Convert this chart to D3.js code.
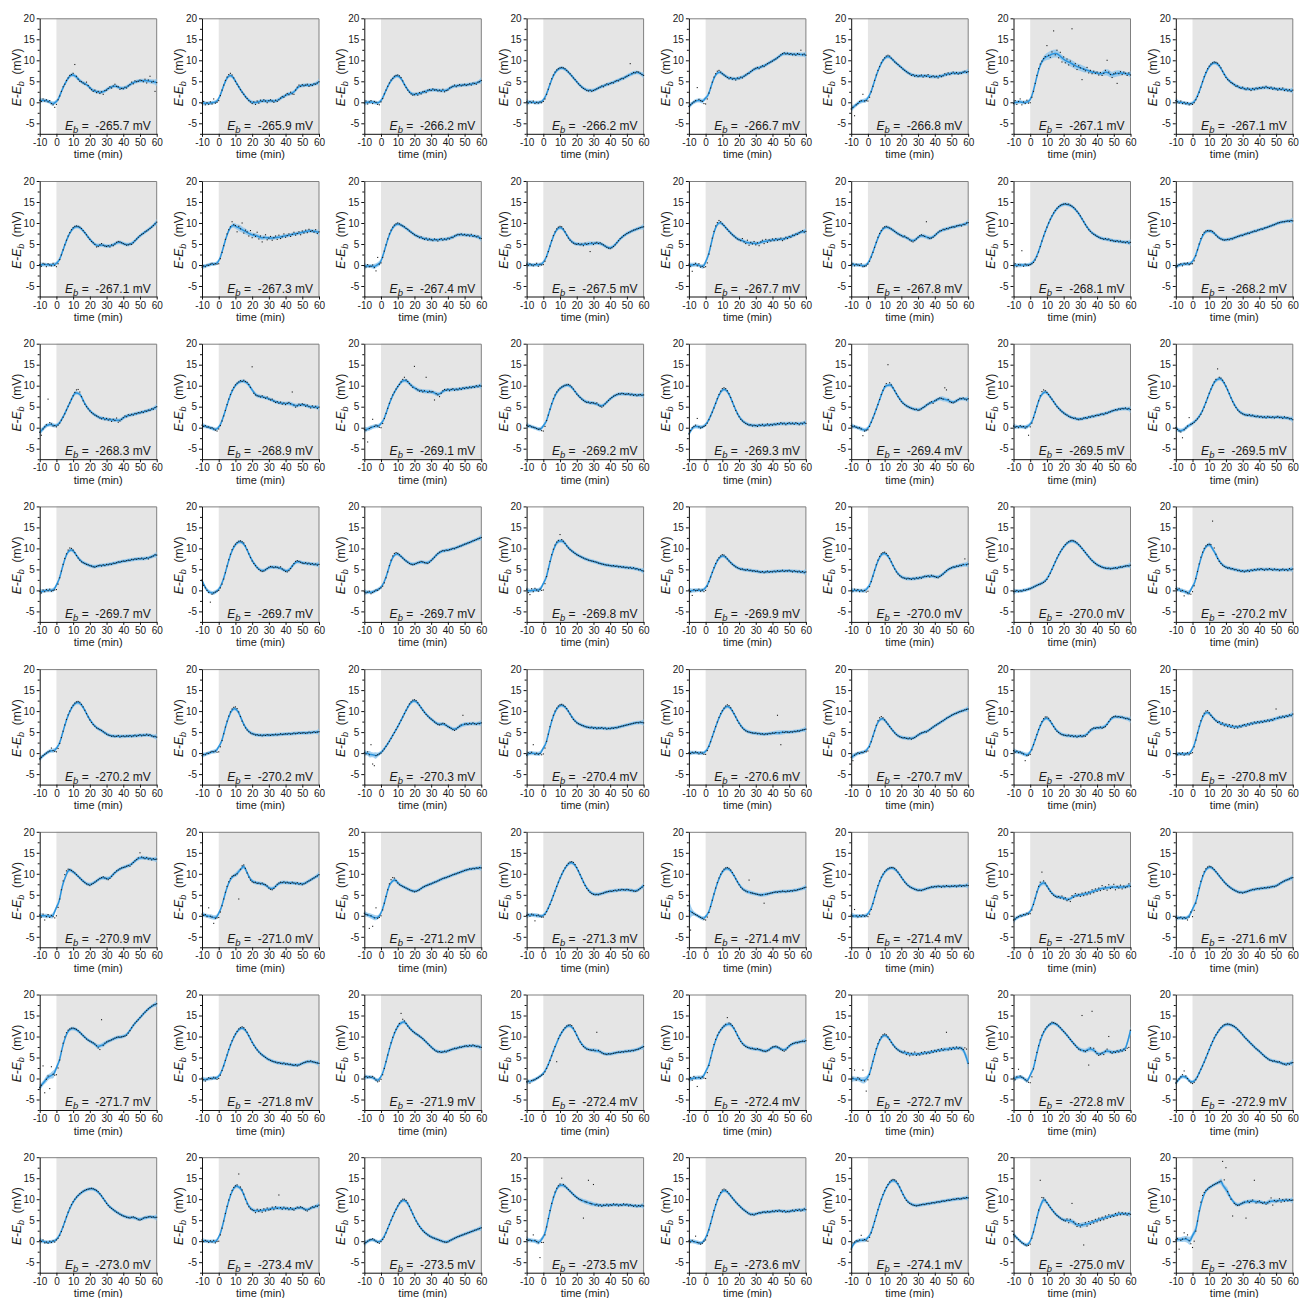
<!DOCTYPE html>
<html><head><meta charset="utf-8">
<script src="https://cdn.jsdelivr.net/npm/d3@7"></script>
<style>
body{margin:0;background:#fff}
svg text{font-family:"Liberation Sans",Arial,Helvetica,sans-serif;fill:#1a1a1a}
</style>
</head><body>
<svg id="chart" width="1299" height="1298"></svg>
<script>
// sampling times (min), one observation per minute
const times = d3.range(-10, 61);
const xTicks = [-10, 0, 10, 20, 30, 40, 50, 60];
const yTicks = [-5, 0, 5, 10, 15, 20];
const yMinor = [-7.5, -2.5, 2.5, 7.5, 12.5, 17.5];
const ebValues = [
 -265.7,-265.9,-266.2,-266.2,-266.7,-266.8,-267.1,-267.1,
 -267.1,-267.3,-267.4,-267.5,-267.7,-267.8,-268.1,-268.2,
 -268.3,-268.9,-269.1,-269.2,-269.3,-269.4,-269.5,-269.5,
 -269.7,-269.7,-269.7,-269.8,-269.9,-270.0,-270.0,-270.2,
 -270.2,-270.2,-270.3,-270.4,-270.6,-270.7,-270.8,-270.8,
 -270.9,-271.0,-271.2,-271.3,-271.4,-271.4,-271.5,-271.6,
 -271.7,-271.8,-271.9,-272.4,-272.4,-272.7,-272.8,-272.9,
 -273.0,-273.4,-273.5,-273.5,-273.6,-274.1,-275.0,-276.3];

// observed E - Eb (mV) at t = -10..60 min, one array per cell
const p01=[0.5,0.2,0.8,0.3,0.6,0.1,0.4,-0.3,-0.6,-1.2,-0.5,0.6,1.5,2.6,3.7,4.3,5.2,5.8,6.4,6.6,6.9,9.0,6.2,5.5,5.0,4.9,4.6,4.3,4.8,4.0,3.4,3.0,2.6,2.9,2.3,2.6,2.1,2.5,1.9,2.8,2.9,3.3,3.7,3.4,3.9,4.3,3.8,3.7,3.1,3.3,3.2,3.6,3.4,3.9,4.2,4.8,4.4,5.1,4.9,5.0,5.3,5.2,4.9,5.5,4.6,5.3,6.2,4.8,5.0,2.6,4.7];
const p02=[-0.3,0.2,-0.6,-0.1,-0.5,0.1,-0.4,0.8,-0.2,0.0,0.4,1.6,2.9,4.1,5.2,6.0,6.6,6.9,6.5,5.8,5.0,4.3,3.7,3.0,2.4,1.9,1.3,0.9,0.4,0.1,-0.3,0.1,-0.5,0.3,-0.2,0.5,0.2,0.6,0.3,-0.1,0.4,0.6,0.3,0.0,0.5,0.2,0.6,1.0,1.4,1.2,1.7,2.1,1.8,2.4,2.0,1.9,2.9,3.6,4.1,3.8,4.2,3.9,4.1,4.3,3.8,4.2,4.0,4.4,4.3,4.6,4.9];
const p03=[-0.2,0.3,-0.4,0.1,0.4,-0.3,0.2,0.0,-0.5,-0.6,0.1,0.9,2.0,2.9,3.8,4.6,5.3,5.7,6.2,6.4,6.5,6.3,5.9,5.1,4.2,3.5,2.9,2.4,2.0,1.7,1.8,2.1,1.7,2.3,2.0,2.5,2.6,2.3,2.9,3.0,2.8,3.2,2.9,3.0,2.7,2.9,2.6,3.1,2.5,2.8,2.9,3.4,3.6,3.8,4.1,3.7,4.0,4.2,3.9,4.1,4.3,4.0,4.2,4.4,4.1,4.6,4.5,4.3,4.8,4.9,5.2];
const p04=[0.1,-0.2,0.2,-0.1,0.3,-0.3,0.0,-0.2,0.1,-0.1,0.2,0.8,1.9,3.1,4.4,5.6,6.5,7.2,7.7,8.0,8.2,8.3,8.2,8.0,7.6,7.2,6.8,6.3,5.8,5.4,4.9,4.4,4.0,3.6,3.3,3.1,2.8,2.7,2.9,2.6,2.8,3.0,3.2,3.4,3.6,3.9,3.7,4.1,4.4,4.2,4.5,4.7,4.6,5.0,5.2,5.1,5.5,5.7,5.6,6.0,6.2,6.4,9.2,6.8,7.1,7.0,7.3,7.2,6.9,6.6,6.4];
const p05=[-1.0,-0.6,-0.2,0.1,0.4,3.5,0.7,0.4,0.2,-0.3,-0.4,0.8,2.2,3.4,4.8,6.0,6.8,7.4,7.6,7.2,6.8,6.5,6.2,5.9,5.6,5.9,5.5,5.7,5.3,5.8,5.6,6.0,5.8,6.2,6.5,6.8,6.9,7.3,7.6,7.9,8.1,8.3,8.0,8.4,8.7,8.5,8.9,9.2,9.4,9.6,9.8,10.1,10.3,10.6,10.9,11.3,11.6,11.8,11.5,11.7,11.4,11.6,11.3,11.5,11.2,11.6,11.4,12.4,11.3,11.5,11.2];
const p06=[-1.6,-1.2,-3.2,-0.6,-0.3,0.2,0.4,1.9,0.3,0.4,0.3,1.2,2.5,3.8,5.2,6.5,7.6,8.5,9.4,10.1,10.6,11.0,11.2,11.0,10.5,10.1,9.6,9.3,9.0,8.6,8.3,7.9,7.6,7.3,7.0,6.8,6.4,6.6,6.2,6.4,6.1,6.3,6.5,6.0,6.4,6.2,6.6,5.9,6.1,6.3,6.0,6.2,5.8,6.4,6.1,6.3,6.8,6.5,7.0,6.6,6.9,7.2,6.8,7.1,6.7,7.0,6.9,7.2,7.4,7.1,7.3];
const p07=[-0.3,0.4,-0.5,0.2,0.8,-0.6,0.1,-0.3,0.5,-0.2,-0.1,1.2,2.6,4.5,6.4,8.0,9.1,9.8,10.4,10.9,13.5,11.2,10.7,12.0,17.0,11.3,12.4,10.6,11.9,9.6,10.8,9.4,10.3,8.9,9.8,17.5,8.6,9.2,7.8,8.7,8.2,5.4,7.9,7.5,8.3,7.0,7.6,6.8,7.4,6.9,7.2,6.5,7.1,6.4,6.9,7.6,10.0,7.2,6.6,5.9,6.8,7.0,4.5,6.8,7.3,6.6,7.2,6.9,6.4,7.0,6.5];
const p08=[0.4,0.1,-0.2,0.3,-0.3,0.0,-0.4,-0.1,-0.6,-0.3,-0.5,-0.1,0.6,1.4,2.4,3.6,4.9,6.1,7.1,8.0,8.6,9.1,9.4,9.6,9.5,9.3,8.8,8.2,7.4,6.6,5.9,5.4,5.1,4.7,4.5,4.2,3.8,3.9,3.5,3.3,3.6,3.2,3.0,3.4,3.1,2.8,3.3,3.0,3.4,3.2,3.5,3.3,3.6,3.4,3.8,3.5,3.3,3.6,3.1,3.4,3.2,2.9,3.3,3.0,3.4,2.8,3.1,2.7,3.0,2.6,2.9];
const p09=[0.1,-0.3,0.4,0.2,-0.4,0.3,0.0,-0.2,0.4,-0.1,-0.4,0.3,1.3,2.4,3.6,4.8,5.9,6.9,7.7,8.4,8.9,9.2,9.3,9.2,9.0,8.7,8.2,7.7,7.2,6.6,6.1,5.6,5.3,4.9,4.3,4.4,4.8,5.1,4.7,4.5,4.4,4.6,4.3,4.8,4.6,5.0,5.4,5.6,5.5,5.3,5.1,4.9,4.7,4.8,5.0,4.9,5.3,5.8,6.2,6.6,7.0,7.3,7.5,7.9,8.1,8.4,8.7,9.0,9.4,9.8,10.2];
const p10=[-0.5,-0.2,-0.4,0.0,-0.1,0.2,0.4,0.1,0.3,0.2,0.3,1.5,3.0,4.6,6.1,7.4,8.4,9.1,10.3,9.6,9.4,7.9,9.2,8.6,10.0,7.6,8.3,7.9,6.9,8.2,6.5,7.3,6.8,7.8,6.2,6.9,5.5,6.6,7.2,6.0,6.4,6.8,5.9,6.5,6.9,6.1,7.1,6.3,6.7,7.4,6.6,7.0,7.4,6.8,7.3,7.8,7.1,7.5,7.9,7.2,8.1,7.6,8.3,7.7,8.5,8.0,8.2,7.8,8.4,7.5,7.9];
const p11=[-0.2,-0.5,0.1,-0.4,-0.3,0.0,-0.6,-1.4,1.8,0.2,0.5,1.8,3.3,4.8,6.2,7.4,8.3,9.0,9.5,9.8,10.0,9.8,9.5,9.3,9.1,8.7,8.5,8.1,7.8,7.5,7.2,7.0,6.8,6.5,6.7,6.3,6.1,6.4,5.9,6.2,6.0,5.8,6.2,6.0,5.7,6.1,6.3,5.9,6.2,6.0,6.4,6.2,6.6,6.5,6.9,7.1,7.3,7.2,7.4,7.1,7.3,7.0,7.2,6.9,7.3,6.8,7.0,6.7,6.9,6.4,6.3];
const p12=[0.2,-0.1,0.3,0.0,-0.2,0.1,0.4,-0.3,0.2,0.0,0.1,0.9,2.0,3.2,4.5,5.8,7.0,7.9,8.6,9.0,9.2,9.1,8.6,7.9,7.1,6.4,5.9,5.5,5.2,5.0,4.9,5.1,4.8,5.0,4.6,5.2,4.9,5.1,3.2,5.3,4.9,5.2,5.4,5.1,5.3,5.0,4.8,4.5,4.2,4.0,3.9,4.1,4.4,4.8,5.3,5.8,6.3,6.6,7.0,7.2,7.5,7.7,7.9,8.1,8.3,8.4,8.6,8.7,8.9,9.0,9.1];
const p13=[0.2,-0.3,-1.5,0.1,0.4,-0.2,0.3,-0.5,-0.3,-0.6,-0.4,0.5,2.6,4.5,6.4,8.0,9.3,10.1,10.6,10.3,9.8,9.4,8.9,8.5,8.0,7.6,7.2,6.9,6.5,6.2,6.0,5.8,6.3,5.5,5.1,5.9,4.7,5.4,5.0,5.6,4.8,5.3,4.6,5.5,5.9,5.1,6.1,5.4,6.0,5.7,6.2,5.8,6.3,5.9,6.1,6.4,5.8,6.2,6.6,6.3,6.8,6.6,7.1,7.0,7.4,7.3,7.7,7.9,8.2,7.8,8.0];
const p14=[0.1,0.3,-0.2,0.2,0.0,-0.1,0.3,-0.4,-0.3,-0.2,0.2,0.9,1.9,3.0,4.2,5.4,6.6,7.5,8.2,8.8,9.1,9.2,9.0,8.8,8.6,8.3,8.0,7.7,7.4,7.2,7.0,6.7,6.9,6.5,6.4,6.0,5.7,5.5,5.8,6.2,6.6,7.0,7.2,7.0,6.8,10.3,6.5,6.3,6.4,6.6,7.0,7.4,7.8,8.1,8.2,8.5,8.4,8.7,8.6,8.9,9.0,9.1,9.0,9.3,9.4,9.5,9.3,9.7,9.6,10.0,10.1];
const p15=[-0.2,0.3,-0.4,0.1,0.0,3.4,-0.3,0.2,0.0,-0.1,0.1,0.3,0.6,1.2,2.0,3.1,4.4,5.7,6.9,8.0,9.0,10.0,10.9,11.7,12.4,13.0,13.5,13.9,14.2,14.4,14.5,14.6,14.4,14.5,14.2,14.0,13.7,13.3,12.8,12.3,11.7,11.0,10.3,9.6,9.0,8.4,8.0,7.6,7.3,7.1,6.8,6.6,6.4,6.3,6.1,6.3,6.0,6.2,5.8,5.9,5.7,5.6,5.8,5.5,5.7,5.4,5.5,5.3,5.6,5.2,5.4];
const p16=[-0.5,-0.2,0.1,0.3,-0.2,0.4,0.2,0.5,0.1,0.3,0.3,1.0,2.2,3.6,5.0,6.3,7.2,7.8,8.1,8.2,8.1,8.2,8.0,7.6,7.1,6.7,6.4,6.2,6.0,5.9,6.0,6.1,6.0,6.3,6.2,6.5,6.6,6.8,6.9,7.1,7.0,7.3,7.4,7.6,7.5,7.8,7.9,8.1,8.0,8.3,8.4,8.6,8.5,8.8,8.9,9.0,9.2,9.3,9.5,9.6,9.8,10.0,10.1,10.2,10.3,10.3,10.4,10.5,10.4,10.6,10.5];
const p17=[-1.1,-1.8,-0.3,0.2,0.7,6.8,1.2,0.9,0.4,0.5,0.2,0.6,1.1,1.8,2.5,3.3,4.2,5.1,5.9,6.8,7.6,8.4,9.0,9.1,8.5,7.4,6.4,5.6,5.0,4.5,4.0,3.6,3.3,3.0,2.8,2.6,2.3,2.1,2.4,1.9,2.2,1.8,2.1,1.5,2.0,1.7,2.3,1.3,1.6,2.0,2.4,2.8,2.6,3.1,2.9,3.2,3.0,3.4,3.3,3.6,3.5,3.8,3.6,4.0,3.9,4.2,4.1,4.5,4.4,4.8,5.0];
const p18=[0.6,0.3,0.5,0.1,0.2,-0.1,0.0,-0.3,-0.6,-0.8,-0.3,0.5,1.6,2.8,4.1,5.5,6.8,7.9,8.9,9.6,10.2,10.6,10.9,11.2,11.0,11.3,11.0,10.8,10.3,9.6,14.5,8.2,7.8,7.6,7.5,7.3,7.6,7.2,7.0,7.3,6.8,6.6,6.8,6.3,6.0,6.2,5.8,6.1,5.6,5.9,5.5,5.8,6.0,5.7,8.5,5.4,4.9,5.2,5.6,5.3,5.7,5.5,5.1,5.4,5.0,4.7,5.2,4.8,5.1,4.6,4.9];
const p19=[-0.4,-0.6,-3.4,-0.2,0.1,2.0,0.3,0.6,0.4,0.1,0.0,1.0,2.2,3.4,4.6,5.8,6.9,7.8,8.5,9.2,9.8,10.3,10.9,11.5,12.0,11.4,11.0,10.5,10.1,9.6,14.6,9.3,9.0,8.7,8.9,8.5,8.8,12.0,8.4,8.7,8.5,8.6,6.6,8.1,7.8,7.4,8.2,8.8,9.1,8.9,9.2,8.8,9.1,9.3,8.9,9.2,9.0,9.4,9.1,9.5,9.3,9.6,9.4,9.7,9.5,9.8,9.6,10.0,9.7,10.1,9.9];
const p20=[0.6,0.3,0.5,0.2,0.1,0.0,-0.2,-0.4,-0.3,-0.7,-0.8,0.3,1.7,3.0,4.4,5.7,6.9,7.8,8.5,9.0,9.4,9.7,9.9,10.1,10.2,10.3,10.1,9.7,9.2,8.6,8.0,7.6,7.2,6.8,6.5,6.2,6.0,6.1,5.8,6.0,5.9,5.7,5.9,5.4,5.1,4.9,5.2,5.7,6.1,6.5,6.9,7.2,7.5,7.7,7.9,8.1,8.0,8.2,8.1,7.9,8.0,8.1,7.8,8.0,7.7,7.9,7.6,7.8,7.9,7.7,7.8];
const p21=[-1.5,-0.7,0.0,0.3,0.6,2.2,0.2,-0.1,0.1,0.3,0.5,1.1,1.9,2.8,3.7,4.7,5.8,6.9,7.9,8.7,9.3,9.5,9.3,8.8,8.1,7.2,6.2,5.1,4.1,3.3,2.6,2.0,1.6,1.3,1.0,0.8,0.6,0.7,0.4,0.6,0.5,0.3,0.7,0.5,0.8,0.4,0.6,0.9,0.5,0.8,0.6,0.9,0.7,1.0,0.8,1.2,0.9,1.1,0.7,1.0,1.2,0.9,1.1,0.8,1.2,1.0,0.7,1.1,0.9,1.3,1.0];
const p22=[0.5,0.2,0.4,0.1,-0.1,0.0,-0.3,-1.9,-0.8,-0.6,-0.5,0.3,1.3,2.3,3.3,4.4,5.5,6.7,7.9,8.9,9.8,10.5,15.0,10.7,10.2,9.5,8.8,8.1,7.4,6.8,6.2,5.8,5.5,5.2,5.0,4.8,4.6,4.5,4.3,4.4,4.1,4.2,4.5,4.8,5.0,5.4,5.6,5.9,6.2,5.8,6.4,6.6,6.9,7.1,7.0,6.8,9.5,9.0,6.7,6.2,6.0,5.9,6.1,6.4,6.7,7.0,6.9,7.1,6.8,6.6,6.9];
const p23=[0.4,0.1,0.3,0.0,0.5,0.2,0.3,-0.1,0.2,-1.8,0.2,1.1,2.4,3.7,5.1,6.4,7.6,8.6,9.0,8.8,8.4,7.9,7.3,6.8,6.2,5.6,5.0,4.6,4.2,3.8,3.5,3.2,3.0,2.7,2.5,2.4,2.2,2.3,2.0,1.9,2.1,2.0,2.3,2.4,2.2,2.6,2.5,2.8,2.6,2.9,3.0,2.9,3.2,3.3,3.1,3.5,3.4,3.7,3.8,4.0,4.1,4.3,4.2,4.5,4.4,4.6,4.5,4.7,4.4,4.6,4.3];
const p24=[0.0,-0.4,-0.8,-1.0,-2.4,-0.5,-0.1,0.4,2.4,0.8,1.0,1.3,1.7,2.1,2.6,3.2,4.0,4.9,6.0,7.1,8.2,9.2,10.1,10.9,11.5,14.0,12.0,11.8,11.3,10.7,9.9,9.0,8.1,7.1,6.2,5.4,4.8,4.2,3.8,3.5,3.3,3.1,3.0,2.9,3.1,2.8,3.0,2.7,2.6,2.8,2.5,2.7,2.4,2.6,2.3,2.7,2.5,2.4,2.6,2.3,2.5,2.7,2.4,2.5,2.2,2.6,2.3,2.4,2.1,2.2,1.9];
const p25=[-0.2,-0.6,0.1,-0.3,0.2,-0.1,0.3,-0.2,0.0,0.1,0.2,1.5,3.0,4.6,6.2,7.6,8.7,9.6,10.1,10.0,9.6,9.0,8.3,7.7,7.2,6.8,6.6,6.4,6.2,6.1,5.9,5.8,5.6,5.5,5.7,5.9,6.0,5.8,6.1,5.9,6.2,6.1,6.3,6.2,6.5,6.4,6.6,6.8,6.7,6.9,7.0,6.9,7.1,7.2,7.1,7.4,7.3,7.5,7.4,7.6,7.5,7.7,7.4,7.6,7.8,7.5,7.9,8.0,8.2,8.5,8.4];
const p26=[2.5,1.2,0.6,0.0,-0.5,-2.8,-0.9,-0.6,-0.4,-0.2,0.0,0.6,1.5,2.7,4.2,5.8,7.3,8.6,9.7,10.5,11.0,11.4,11.7,11.8,11.6,11.3,10.6,9.7,8.7,7.8,7.0,6.4,5.9,5.4,5.0,4.7,4.5,4.6,4.9,5.2,5.5,5.7,5.6,5.4,5.6,5.5,5.3,5.6,5.1,4.8,4.5,4.4,4.7,5.2,5.8,6.4,6.9,7.1,6.9,6.7,6.5,6.4,6.6,6.3,6.5,6.2,6.4,6.1,6.3,6.0,6.2];
const p27=[-0.3,-0.6,-0.4,-0.2,-0.8,-0.5,-0.2,0.1,0.0,0.4,0.6,1.0,1.8,3.0,4.4,5.9,7.2,8.2,8.8,9.0,8.8,8.5,8.1,7.7,7.3,7.0,6.7,6.4,6.2,6.1,6.2,6.4,6.6,6.7,6.9,6.8,6.6,6.5,6.4,6.7,7.1,7.5,7.9,8.4,8.8,9.1,9.3,9.5,9.4,9.6,9.5,9.7,9.8,10.0,9.9,10.2,10.3,10.5,10.6,10.8,11.0,11.1,11.3,11.4,11.6,11.8,11.9,12.1,12.3,12.4,12.6];
const p28=[0.3,-0.5,-1.0,0.4,-0.3,0.5,0.1,-0.2,0.3,0.0,0.1,1.6,3.3,5.1,6.9,8.5,9.8,10.8,11.5,11.9,13.3,12.1,11.7,11.2,10.6,10.1,9.7,9.4,9.1,8.8,8.5,8.3,8.1,7.9,7.7,7.5,7.4,7.2,7.1,7.0,6.9,6.8,6.7,6.5,6.4,6.3,6.2,6.1,6.0,6.0,5.9,5.8,5.9,5.7,5.8,5.6,5.7,5.5,5.6,5.4,5.5,5.3,5.5,5.2,5.4,5.1,5.2,4.9,5.0,4.7,4.6];
const p29=[0.1,-0.3,-1.2,0.2,-0.1,0.0,0.3,-0.2,0.1,-0.3,0.0,1.0,2.1,3.2,4.3,5.4,6.4,7.2,7.8,8.2,8.5,8.4,8.0,7.5,7.0,6.6,6.2,5.9,5.6,5.4,5.2,5.0,5.1,4.9,4.8,5.0,4.7,4.8,4.6,4.7,4.5,4.6,4.4,4.3,4.5,4.2,4.4,4.6,4.3,4.5,4.4,4.6,4.4,4.7,4.5,4.6,4.8,4.5,4.7,4.6,4.8,4.6,4.4,4.7,4.5,4.4,4.6,4.3,4.5,4.2,4.4];
const p30=[0.0,-0.2,0.3,-0.1,0.2,-0.3,0.1,-0.2,0.0,-0.4,-0.2,0.9,2.1,3.4,4.8,6.1,7.2,8.1,8.7,9.0,9.1,8.8,8.3,7.6,6.8,5.9,5.1,4.4,3.9,3.5,3.2,3.0,2.9,2.7,2.9,2.8,2.6,2.9,2.7,3.0,2.8,3.1,2.9,3.2,3.4,3.3,3.5,3.2,3.6,3.4,3.3,3.1,3.0,3.3,3.6,3.9,4.3,4.7,5.0,5.2,5.4,5.6,5.5,5.8,5.7,6.0,5.9,6.2,7.5,6.1,6.3];
const p31=[-0.3,-0.2,0.0,-0.3,-0.1,-0.2,0.1,0.0,0.2,0.3,0.4,0.6,0.8,1.0,1.2,1.4,1.5,1.7,1.9,2.2,2.6,3.3,4.1,5.0,5.9,6.8,7.7,8.5,9.2,9.8,10.4,10.9,11.3,11.6,11.8,11.9,11.8,11.6,11.3,10.9,10.5,10.0,9.5,9.0,8.5,8.0,7.5,7.1,6.7,6.4,6.1,5.9,5.7,5.5,5.4,5.3,5.2,5.3,5.1,5.2,5.3,5.4,5.2,5.5,5.6,5.5,5.7,5.8,5.9,5.8,6.0];
const p32=[0.4,0.1,0.5,-0.2,0.0,-1.3,-0.3,-0.6,-0.8,-0.9,-0.3,1.1,2.8,4.5,6.3,7.9,9.1,10.0,10.6,10.9,11.0,10.9,16.5,10.1,8.6,7.6,6.9,6.4,6.0,5.7,5.5,5.3,5.4,5.1,5.2,4.9,5.0,4.7,4.8,4.5,4.7,4.4,4.6,4.8,4.5,4.9,4.7,5.0,4.8,5.1,4.9,5.2,5.0,4.8,5.1,4.9,5.2,5.0,4.8,5.1,4.9,5.0,4.7,4.9,5.1,4.8,5.0,4.7,5.2,4.9,5.1];
const p33=[-1.4,-1.0,-0.6,-0.3,0.0,0.3,0.5,1.2,0.6,0.4,0.3,1.1,2.3,3.7,5.2,6.7,8.0,9.1,10.0,10.8,11.4,11.9,12.2,12.3,12.1,11.6,11.0,10.2,9.4,8.6,7.9,7.3,6.8,6.4,6.0,5.8,5.6,5.4,5.1,4.8,4.5,4.3,4.2,4.0,4.1,3.9,4.0,4.2,3.8,4.0,4.1,3.9,4.1,4.0,4.2,3.9,4.1,4.3,4.0,4.2,4.4,4.1,4.3,4.2,4.5,4.2,4.4,4.1,3.9,4.0,3.8];
const p34=[-0.6,-0.3,-0.4,0.0,-0.1,0.2,0.4,0.3,0.5,0.2,0.3,1.5,3.0,4.6,6.2,7.6,8.8,9.8,10.5,10.9,11.0,10.6,9.8,8.7,7.6,6.7,6.0,5.5,5.1,4.8,4.6,4.5,4.3,4.4,4.2,4.3,4.1,4.3,4.2,4.4,4.3,4.2,4.4,4.3,4.5,4.3,4.4,4.6,4.4,4.5,4.6,4.5,4.7,4.5,4.6,4.8,4.6,4.7,4.9,4.7,4.8,4.9,4.7,4.8,5.0,4.8,4.9,5.1,4.9,5.0,5.1];
const p35=[0.1,-0.2,0.3,-0.4,2.0,-2.6,-3.0,-0.6,-0.4,-0.2,0.0,0.5,1.0,1.6,2.2,2.8,3.5,4.2,4.9,5.6,6.3,7.0,7.8,8.6,9.4,10.2,11.0,11.7,12.2,12.6,12.7,12.5,12.0,11.4,10.8,10.2,9.7,9.2,8.8,8.4,8.1,7.8,7.4,7.1,6.8,6.7,6.9,7.1,7.0,6.6,6.3,6.1,5.9,5.6,5.4,5.7,6.1,6.4,6.7,9.0,6.9,7.0,6.8,7.1,6.9,7.2,7.0,6.8,7.1,7.0,7.2];
const p36=[-0.5,0.1,-0.1,0.2,2.0,-0.3,0.0,-0.3,-0.1,-0.4,-0.2,1.2,2.8,4.5,6.3,7.8,9.0,10.0,10.7,11.2,11.5,11.6,11.4,11.1,10.6,10.0,9.3,8.6,8.0,7.6,7.2,7.0,6.8,6.6,6.5,6.3,6.2,6.1,6.0,6.2,5.9,6.1,5.8,6.0,5.9,6.1,5.8,6.0,5.7,5.9,5.8,6.0,5.9,6.1,6.0,6.2,6.3,6.4,6.5,6.6,6.7,6.8,6.9,7.0,7.1,7.2,7.3,7.2,7.4,7.3,7.2];
const p37=[0.1,-0.1,0.2,0.0,0.3,0.1,-0.2,0.2,0.0,-0.3,-0.3,0.6,1.6,2.7,3.9,5.1,6.3,7.4,8.5,9.4,10.1,10.7,11.2,11.5,11.3,10.8,10.1,9.4,8.6,7.8,7.1,6.5,6.0,5.6,5.3,5.1,5.0,4.9,4.8,4.7,4.8,4.6,4.7,4.5,4.6,4.4,4.6,4.5,4.7,4.6,4.8,4.7,4.9,9.0,4.8,2.0,5.0,4.9,5.1,5.0,4.9,5.1,5.0,5.2,5.1,5.3,5.2,5.4,5.5,5.6,5.7];
const p38=[-1.0,-1.8,-0.5,-0.2,0.1,-0.1,0.2,0.1,0.4,0.3,0.5,1.5,2.7,4.0,5.3,6.6,7.7,8.4,8.7,8.4,7.9,7.4,6.9,6.3,5.8,5.3,4.8,4.4,4.1,3.9,3.7,3.6,3.7,3.5,3.4,3.6,3.3,3.5,3.7,4.0,4.3,4.6,4.8,4.9,5.1,5.0,5.3,5.6,5.9,6.2,6.5,6.7,7.0,7.2,7.5,7.7,8.0,8.3,8.5,8.7,9.0,9.2,9.4,9.5,9.7,9.9,10.0,10.1,10.3,10.4,10.5];
const p39=[0.6,0.2,0.5,0.1,0.3,0.0,-0.2,-1.8,-0.6,-0.5,-0.3,0.8,2.0,3.2,4.4,5.6,6.6,7.5,8.2,8.6,8.6,8.3,7.7,7.0,6.3,5.7,5.2,4.9,4.6,4.4,4.3,4.2,4.1,4.3,4.0,4.2,3.9,4.1,3.8,4.0,4.2,3.9,4.1,4.0,4.4,5.0,5.5,5.8,6.0,5.9,6.1,6.0,6.2,5.9,6.1,6.3,6.8,7.5,8.1,8.5,8.7,8.8,8.6,8.7,8.5,8.6,8.4,8.2,8.3,8.1,7.9];
const p40=[-0.2,-0.4,0.0,-0.3,0.1,-0.5,-0.2,0.1,-0.4,-0.1,0.1,1.5,3.1,4.8,6.4,7.7,8.8,9.5,10.0,10.1,9.6,9.0,8.5,8.1,7.7,7.3,7.5,6.8,7.2,6.5,6.9,6.3,6.8,6.1,6.6,5.9,6.4,6.0,6.5,6.2,6.6,6.8,6.4,7.0,6.7,7.2,6.9,7.4,7.1,7.5,7.2,7.6,7.3,7.7,7.5,7.9,7.6,8.0,7.8,8.2,10.5,8.3,8.6,8.4,8.8,8.5,8.9,8.7,9.1,8.9,9.3];
const p41=[0.2,-0.3,0.4,-1.0,-0.2,0.3,-0.4,0.1,-0.2,-0.5,0.0,2.0,4.0,6.2,8.3,9.8,10.7,11.1,11.0,10.8,10.5,10.2,9.8,9.4,9.0,8.6,8.2,7.9,7.6,7.4,7.2,7.5,7.7,8.0,8.3,8.6,8.9,9.1,9.3,9.0,8.8,8.6,8.9,9.4,9.9,10.3,10.7,10.9,11.2,11.4,11.5,11.6,11.8,12.0,11.8,12.3,12.7,13.1,13.4,13.8,15.0,14.0,13.8,13.6,13.9,13.5,13.7,13.3,13.6,13.4,13.5];
const p42=[0.4,0.1,0.3,-0.2,1.9,-0.1,-0.3,-1.8,-0.6,-0.5,-0.4,0.9,2.4,4.0,5.6,7.0,8.1,8.9,9.4,9.6,9.7,10.0,4.0,11.1,11.9,12.1,11.3,10.2,9.2,8.5,8.1,7.9,8.0,7.7,7.8,7.6,7.8,7.5,7.4,7.1,6.6,6.3,6.2,6.5,7.0,7.5,7.8,8.0,7.9,8.1,7.8,8.0,7.8,7.7,8.0,7.8,7.6,7.9,7.5,7.7,7.4,7.6,7.8,8.1,8.3,8.5,8.8,9.0,9.3,9.5,9.8];
const p43=[0.6,0.3,0.2,-3.0,0.0,-2.5,-0.5,1.9,-0.6,-0.4,0.0,1.4,3.0,4.6,6.2,7.6,8.6,9.1,9.0,8.4,7.8,7.4,7.2,7.0,6.8,6.6,6.4,6.2,6.0,5.9,5.7,5.8,6.0,6.2,6.5,6.8,7.0,7.2,7.3,7.5,7.6,7.8,8.0,8.1,8.3,8.5,8.7,8.9,9.0,9.1,9.3,9.4,9.6,9.8,9.9,10.0,10.2,10.3,10.5,10.6,10.8,10.9,11.0,11.2,11.1,11.3,11.2,11.4,11.3,11.5,11.4];
const p44=[0.1,0.3,-0.1,0.4,0.2,-1.2,0.0,0.2,-0.1,-0.3,-0.3,0.3,1.0,1.8,2.7,3.7,4.8,5.9,7.0,8.0,9.0,9.9,10.7,11.4,12.0,12.5,12.8,12.9,12.7,12.2,11.5,10.7,9.8,8.9,8.0,7.2,6.5,6.0,5.6,5.3,5.1,5.0,5.1,5.0,5.2,5.3,5.4,5.6,5.7,5.8,5.9,5.8,6.0,6.1,5.9,6.2,6.1,6.3,6.2,6.1,6.3,6.2,6.0,6.1,5.9,5.8,5.9,6.2,6.5,6.8,7.2];
const p45=[3.4,-3.4,0.8,0.5,0.3,0.1,-0.2,-0.4,-0.6,-0.9,-1.0,-0.3,0.8,2.2,3.7,5.2,6.6,7.9,9.0,9.9,10.6,11.1,11.4,11.5,11.3,10.9,10.3,9.6,8.8,8.1,7.4,6.8,6.4,6.1,5.9,5.7,8.5,5.5,5.4,5.3,5.2,5.1,5.0,4.9,5.0,3.0,5.1,5.2,5.3,5.4,5.5,5.6,5.7,5.6,5.8,5.7,5.9,5.8,5.7,5.9,5.8,6.0,5.9,6.1,6.0,6.2,6.3,6.4,6.5,6.7,6.8];
const p46=[0.2,-0.1,1.5,0.0,-0.3,0.1,-0.2,0.2,-0.1,0.0,-0.2,0.4,1.5,2.9,4.4,5.9,7.2,8.3,9.2,9.9,10.5,10.9,11.2,11.4,11.5,11.5,11.3,10.9,10.4,9.8,9.2,8.6,8.0,7.6,7.2,6.9,6.7,6.5,6.3,6.2,6.0,6.1,6.0,6.2,6.3,6.5,6.6,6.7,6.9,6.8,7.0,6.9,7.1,7.0,6.8,7.1,6.9,7.2,7.0,6.9,7.1,7.0,7.2,6.9,7.1,7.3,7.0,7.2,7.1,7.3,7.2];
const p47=[-1.0,-0.8,-0.4,-0.2,0.1,-0.1,0.3,0.2,0.6,0.4,0.5,1.4,2.7,4.2,5.7,7.0,8.0,10.4,8.3,7.8,7.1,6.4,5.8,5.3,4.9,4.6,4.4,4.6,4.2,4.7,4.0,4.3,3.6,3.9,3.4,4.8,4.4,5.3,4.7,5.1,4.6,5.4,4.8,5.6,5.0,5.7,5.2,6.2,5.5,6.4,5.8,6.6,6.0,7.2,6.3,6.9,6.1,7.4,6.5,6.8,7.5,6.2,7.0,6.6,7.3,6.4,7.1,6.7,6.9,7.6,7.0];
const p48=[-0.4,-0.6,-0.5,-0.3,-0.7,-0.4,-0.6,-1.0,-0.3,0.9,-0.2,1.3,3.0,4.8,6.6,8.2,9.5,10.5,11.2,11.6,11.8,11.7,11.4,11.0,10.5,10.0,9.5,9.0,8.5,8.0,7.6,7.2,6.9,6.6,6.3,6.1,5.9,5.7,5.5,5.6,5.4,5.6,5.7,5.8,6.0,6.1,6.3,6.2,6.4,6.5,6.4,6.6,6.5,6.7,6.6,6.8,6.7,6.9,7.0,6.9,7.1,7.3,7.6,7.9,8.1,8.3,8.5,8.6,8.8,9.0,9.1];
const p49=[-2.2,-1.6,3.0,-3.4,-0.2,0.6,-2.4,2.8,1.0,0.8,0.9,2.5,4.4,6.5,8.4,9.9,10.9,11.5,11.8,12.0,12.0,11.9,11.7,11.4,11.0,10.6,10.2,9.8,9.4,9.1,8.9,8.7,8.5,8.2,7.8,7.3,6.9,14.0,7.9,8.4,8.7,8.9,9.0,9.2,9.4,9.6,9.8,9.9,9.8,9.9,10.0,10.1,10.3,10.8,11.4,12.1,12.7,13.2,13.6,14.0,14.5,14.9,15.4,15.8,16.2,16.6,16.9,17.2,17.5,17.6,17.8];
const p50=[0.1,-0.3,-0.6,-0.2,0.2,0.0,-0.1,0.3,0.1,-0.2,0.0,0.8,1.9,3.0,4.3,5.6,6.9,8.0,9.0,9.9,10.6,11.2,11.8,12.1,12.3,12.1,11.6,11.0,10.2,9.4,8.6,7.9,7.3,6.8,6.3,5.9,5.6,5.3,5.0,4.7,4.5,4.3,4.1,4.0,3.9,3.7,3.8,3.6,3.5,3.7,3.4,3.5,3.3,3.4,3.2,3.1,3.3,3.0,3.2,3.4,3.6,3.8,3.9,4.1,4.0,4.2,4.0,3.9,3.8,3.7,3.6];
const p51=[0.3,0.5,0.2,0.4,0.3,0.5,0.1,-0.4,-0.8,-0.6,-0.2,0.9,2.4,4.0,5.6,7.1,8.5,9.8,10.9,11.7,12.4,13.1,15.5,14.1,13.7,13.1,12.5,12.0,11.6,11.2,10.9,10.6,10.4,10.1,9.8,9.5,9.1,8.7,8.3,7.9,7.5,7.1,6.8,6.5,6.3,6.4,6.2,6.3,6.5,6.3,6.6,6.7,6.9,7.0,7.2,7.1,7.3,7.5,7.4,7.6,7.7,7.8,7.6,7.9,7.7,8.0,7.8,7.6,7.7,7.5,7.4];
const p52=[-0.8,-0.6,-1.1,-0.5,-0.4,-0.3,0.0,0.2,0.5,0.8,1.0,1.6,2.4,3.3,4.3,5.4,6.5,7.6,4.0,9.5,10.3,11.0,11.6,12.1,12.5,12.7,12.8,12.6,12.0,11.2,10.3,9.4,8.7,8.1,7.6,7.3,7.0,6.9,6.8,6.7,6.8,6.6,11.0,6.7,6.4,6.1,5.9,5.8,5.7,5.9,5.8,5.9,6.0,6.1,6.2,6.3,6.2,6.4,6.3,6.5,6.4,6.6,6.5,6.7,6.6,6.8,6.9,7.0,7.2,7.4,7.6];
const p53=[-0.3,0.2,-0.4,0.5,0.1,-1.9,0.3,0.0,0.4,0.1,0.0,1.4,3.1,4.9,6.6,8.1,9.3,10.3,11.0,11.6,12.1,12.5,12.9,14.5,13.2,13.0,12.6,12.0,11.2,10.3,9.5,8.8,8.3,7.9,7.6,7.4,7.3,7.1,7.2,7.0,6.9,7.1,6.9,6.8,6.6,6.5,6.4,6.6,6.8,7.2,7.5,7.6,7.7,7.5,7.3,7.0,6.7,6.5,6.8,7.3,7.8,8.1,8.3,8.4,8.6,8.5,8.7,8.8,8.9,8.8,9.0];
const p54=[-0.2,0.1,2.0,-0.4,0.2,-0.1,-0.5,2.0,-0.6,-3.0,-0.3,1.0,2.5,4.1,5.7,7.1,8.3,9.2,9.9,10.4,10.6,10.4,9.9,9.3,8.6,8.0,7.5,7.1,6.8,6.5,6.3,6.1,6.5,5.7,6.2,5.4,6.0,5.6,6.3,5.5,5.9,5.6,6.2,5.8,6.4,5.9,6.3,6.0,6.6,6.2,6.7,6.4,6.9,6.5,7.1,6.7,7.0,11.0,6.8,7.3,6.9,7.4,7.0,7.5,7.1,7.4,7.2,6.9,7.3,7.0,3.6];
const p55=[0.1,-0.3,0.4,2.2,0.6,0.3,0.1,-0.3,-0.6,-0.9,-1.0,0.4,2.3,4.3,6.2,7.8,9.2,10.3,11.1,11.8,12.3,12.7,13.0,13.4,13.3,13.1,12.9,12.5,12.1,11.6,11.2,10.8,10.3,9.8,9.3,8.8,8.3,7.9,7.4,7.0,6.8,15.0,6.6,6.4,6.7,3.2,7.3,16.0,7.2,6.4,5.9,5.5,5.8,6.1,5.7,6.5,7.0,10.0,6.3,6.0,6.4,6.2,6.6,6.3,6.8,6.5,7.0,6.7,7.2,7.4,11.5];
const p56=[-1.1,-0.6,-0.1,0.4,0.9,1.8,0.6,0.0,-0.6,-1.0,-1.2,-0.9,-0.3,0.4,1.3,2.2,3.0,3.9,4.9,5.9,6.9,7.9,8.8,9.7,10.4,11.0,11.6,12.1,12.5,12.8,12.9,13.0,12.9,12.8,12.6,12.4,12.1,11.7,11.3,10.9,10.4,9.9,9.5,9.1,8.7,8.3,7.9,7.5,7.1,6.8,6.5,6.1,5.7,5.3,5.0,4.7,4.4,4.3,4.1,4.2,4.0,3.9,4.0,3.7,3.5,3.4,3.2,3.6,3.4,3.7,3.8];
const p57=[0.2,-0.1,0.3,-0.4,-0.2,-0.5,0.0,-0.3,0.1,-0.2,0.3,0.7,1.4,2.3,3.4,4.6,5.8,6.9,7.9,8.7,9.4,10.0,10.5,10.9,11.3,11.6,11.9,12.1,12.3,12.4,12.5,12.6,12.5,12.3,12.1,11.8,11.3,10.8,10.2,9.6,9.0,8.5,8.1,7.8,7.5,7.2,6.9,6.7,6.4,6.2,6.0,5.9,5.7,5.6,5.5,5.7,5.8,5.6,5.4,5.1,5.0,5.2,5.5,5.7,5.6,5.8,5.9,5.7,5.8,5.6,5.7];
const p58=[0.3,-0.1,0.2,0.0,-0.3,0.1,-0.2,0.2,-0.4,-0.1,0.0,1.5,3.1,4.8,6.6,8.3,9.8,11.1,12.1,12.8,13.2,13.4,16.0,12.9,12.2,11.2,10.0,8.9,8.2,7.7,7.5,7.3,6.8,7.6,7.1,7.5,6.9,7.7,7.2,7.9,7.4,7.6,8.1,7.5,8.2,7.8,11.0,8.0,7.6,8.1,7.7,7.9,7.5,8.0,7.6,7.4,7.8,8.1,7.9,8.2,8.0,7.7,7.4,7.2,7.6,7.9,8.2,8.0,8.4,8.3,8.6];
const p59=[-0.6,-0.3,0.0,0.3,0.4,0.6,0.3,0.0,-0.3,-0.5,-0.1,0.4,1.0,2.0,3.0,4.0,5.0,5.9,6.8,7.6,8.4,9.1,9.6,10.0,10.0,9.7,9.1,8.3,7.4,6.5,5.6,4.8,4.1,3.5,3.0,2.5,2.1,1.8,1.5,1.2,1.0,0.8,0.7,0.5,0.4,0.2,0.1,-0.1,-0.2,-0.3,-0.2,0.1,0.3,0.5,0.7,0.9,1.1,1.2,1.4,1.5,1.7,1.8,2.0,2.1,2.3,2.4,2.6,2.7,2.9,3.0,3.2];
const p60=[0.4,0.2,0.3,0.1,1.5,0.2,-0.1,-0.4,-3.9,-0.3,-0.3,1.5,3.4,5.4,7.3,9.0,10.5,11.7,12.6,13.2,13.6,15.0,13.5,13.1,12.7,12.3,11.9,11.5,11.1,10.7,10.4,10.1,9.9,9.7,5.5,9.4,9.3,14.5,9.0,8.9,13.5,8.6,8.8,8.4,8.7,8.3,8.6,8.5,8.8,8.4,8.7,8.5,8.9,8.6,8.8,8.4,8.7,8.5,8.9,8.6,8.8,8.4,8.7,8.5,8.3,8.6,8.2,8.5,8.3,8.6,8.4];
const p61=[0.1,-0.2,0.2,-0.1,1.2,-0.3,-0.4,-0.7,-0.5,0.0,0.3,1.3,2.7,4.2,5.8,7.3,8.7,9.9,10.8,11.6,12.2,12.4,12.2,11.8,11.3,10.8,10.3,9.8,9.3,8.9,8.5,8.1,7.7,7.4,7.1,6.8,6.5,6.3,6.4,6.2,6.5,6.6,6.8,6.7,6.9,7.0,6.8,7.1,6.9,7.0,7.2,7.0,7.3,7.1,7.4,7.2,7.0,7.3,6.9,7.1,7.0,7.2,7.4,7.1,7.5,7.3,7.6,7.2,7.4,7.7,7.5];
const p62=[-1.9,-0.4,-0.2,0.1,0.0,0.3,1.4,0.2,0.4,0.1,0.0,0.9,2.0,3.3,4.7,6.1,7.5,8.8,10.0,11.1,12.0,12.8,13.5,14.1,14.5,14.7,14.6,14.3,13.7,12.9,12.0,11.1,10.3,9.7,9.3,9.0,8.8,8.6,8.5,8.4,8.5,8.6,8.7,8.8,8.7,8.9,9.0,8.9,9.1,9.2,9.1,9.3,9.4,9.3,9.5,9.6,9.5,9.7,9.8,9.7,9.9,10.0,9.9,10.1,10.2,10.0,10.1,10.3,10.2,10.4,10.3];
const p63=[1.6,1.2,0.8,0.4,0.0,-0.4,-0.6,-0.9,-1.1,-1.0,-0.7,0.7,2.2,3.9,5.6,7.4,14.5,10.4,10.3,9.8,9.2,8.6,8.0,7.5,7.0,6.5,6.1,5.8,5.5,5.2,5.0,4.8,5.3,4.4,5.2,9.0,4.6,4.1,3.5,4.2,3.4,3.9,-0.9,4.4,3.6,4.7,4.0,4.9,4.3,5.2,4.6,5.5,4.9,5.7,5.1,6.0,5.4,6.3,5.7,6.2,5.9,6.6,6.1,6.9,6.3,6.8,6.4,6.7,6.2,6.6,6.4];
const p64=[0.3,0.6,-1.9,0.2,0.5,2.0,0.7,1.5,0.1,-0.6,-1.5,0.0,2.4,4.8,7.2,9.3,10.9,11.6,12.1,12.4,12.8,13.0,13.3,13.5,13.7,13.9,14.1,14.3,19.0,14.6,17.5,11.8,10.9,10.0,6.0,9.0,8.7,8.5,8.6,8.9,9.1,9.3,5.5,9.6,9.2,9.5,9.8,14.5,9.1,9.4,9.6,9.2,9.0,9.3,8.8,9.1,9.5,10.3,8.6,9.7,9.4,9.6,10.1,9.3,9.9,9.5,10.0,9.6,9.9,9.7,9.8];

const panels = [p01,p02,p03,p04,p05,p06,p07,p08,p09,p10,p11,p12,p13,p14,p15,p16,
 p17,p18,p19,p20,p21,p22,p23,p24,p25,p26,p27,p28,p29,p30,p31,p32,
 p33,p34,p35,p36,p37,p38,p39,p40,p41,p42,p43,p44,p45,p46,p47,p48,
 p49,p50,p51,p52,p53,p54,p55,p56,p57,p58,p59,p60,p61,p62,p63,p64];

// robust local-linear Gaussian smoother with pointwise 95% band
function smooth(ts, ys, h) {
  const n = ts.length;
  const rob = new Array(n).fill(1);
  function fitAt(x0) {
    let S0=0,S1=0,S2=0,T0=0,T1=0; const k=new Array(n);
    for (let i=0;i<n;i++){const d=ts[i]-x0; const kk=Math.exp(-0.5*(d/h)*(d/h))*rob[i]; k[i]=kk;
      S0+=kk;S1+=kk*d;S2+=kk*d*d;T0+=kk*ys[i];T1+=kk*d*ys[i];}
    const den=S0*S2-S1*S1; const v=(S2*T0-S1*T1)/den;
    let L2=0; for(let i=0;i<n;i++){const d=ts[i]-x0; const l=k[i]*(S2-S1*d)/den; L2+=l*l;}
    return {v,L2};
  }
  let res, mad;
  for (let it=0; it<3; it++) {
    res = ts.map((t,i)=>ys[i]-fitAt(t).v);
    mad = Math.max(d3.median(res.map(Math.abs)), 0.15);
    if (it<2) for (let i=0;i<n;i++){const u=res[i]/(6*mad); rob[i]=Math.abs(u)<1?(1-u*u)*(1-u*u):0;}
  }
  const grid = d3.range(-10, 60.0001, 0.25);
  return grid.map(x0=>{
    const f=fitAt(x0);
    let sw=0,sr=0;
    for(let i=0;i<n;i++){const d=(ts[i]-x0)/2.5; const kk=Math.exp(-0.5*d*d); sw+=kk; const r=Math.min(Math.abs(res[i]),5*mad); sr+=kk*r*r;}
    const sigma=Math.max(Math.sqrt(sr/sw), 0.5);
    const se=sigma*Math.sqrt(f.L2)*1.96;
    return {t:x0, v:f.v, lo:f.v-se, hi:f.v+se};
  });
}

const COL0=39.7, ROW0=18.3, DX=162.3, DY=162.7, W=117, H=115.5;
const svg = d3.select('#chart');

panels.forEach((ys, idx) => {
  const r=Math.floor(idx/8), c=idx%8;
  const g = svg.append('g').attr('transform',`translate(${COL0+c*DX},${ROW0+r*DY})`);
  const x = d3.scaleLinear().domain([-10,60]).range([0,W]);
  const y = d3.scaleLinear().domain([-7.5,20]).range([H,0]);

  g.append('rect').attr('x',x(0)).attr('y',0).attr('width',x(60)-x(0)).attr('height',H).attr('fill','#e5e5e5');
  g.append('path').attr('d',`M0,0.5H${W}V${H}`).attr('fill','none').attr('stroke','#808080').attr('stroke-width',1);

  const fit = smooth(times, ys, 1.4);
  g.append('path').datum(fit)
    .attr('d', d3.area().x(d=>x(d.t)).y0(d=>y(d.lo)).y1(d=>y(d.hi)))
    .attr('fill','#8cc4ec').attr('opacity',0.8);
  g.append('path').datum(fit)
    .attr('d', d3.line().x(d=>x(d.t)).y(d=>y(d.v)))
    .attr('fill','none').attr('stroke','#2b93dc').attr('stroke-width',1.5);
  g.append('g').selectAll('rect').data(ys.map((v,k)=>({t:times[k],v})))
    .join('rect').attr('x',d=>x(d.t)-0.55).attr('y',d=>y(d.v)-0.55)
    .attr('width',1.1).attr('height',1.1).attr('fill','#1a1a1a');

  // axes
  const ya = g.append('g').call(d3.axisLeft(y).tickValues(yTicks).tickSize(3).tickSizeOuter(0).tickPadding(2).tickFormat(d=>String(d)));
  g.append('g').call(d3.axisLeft(y).tickValues(yMinor).tickSize(2).tickFormat('')).call(s=>s.select('.domain').remove());
  const xa = g.append('g').attr('transform',`translate(0,${H})`)
    .call(d3.axisBottom(x).tickValues(xTicks).tickSize(3).tickSizeOuter(0).tickPadding(2).tickFormat(d=>String(d)));
  [ya, xa].forEach(a=>{
    a.selectAll('text').attr('font-size','10px').attr('font-family',null).style('fill','#1a1a1a');
    a.select('.domain').attr('stroke','#111');
  });
  g.selectAll('.tick line').attr('stroke','#111');

  // titles
  g.append('text').attr('x',W/2).attr('y',H+24.6).attr('text-anchor','middle')
    .attr('font-size','11px').text('time (min)');
  const yt = g.append('text').attr('transform',`translate(-19,59) rotate(-90)`)
    .attr('text-anchor','middle').attr('font-size','12px').style('white-space','pre');
  yt.append('tspan').attr('font-style','italic').text('E-E');
  yt.append('tspan').attr('font-style','italic').attr('font-size','9px').attr('dy','3').text('b');
  yt.append('tspan').attr('dy','-3').text('  (mV)');

  const lab = g.append('text').attr('x',111).attr('y',H-3.8).attr('text-anchor','end')
    .attr('font-size','12px').style('white-space','pre');
  lab.append('tspan').attr('font-style','italic').text('E');
  lab.append('tspan').attr('font-style','italic').attr('font-size','9.5px').attr('dy','3').text('b');
  lab.append('tspan').attr('dy','-3').text(' =  ' + ebValues[idx].toFixed(1) + ' mV');
});
</script>
</body></html>
